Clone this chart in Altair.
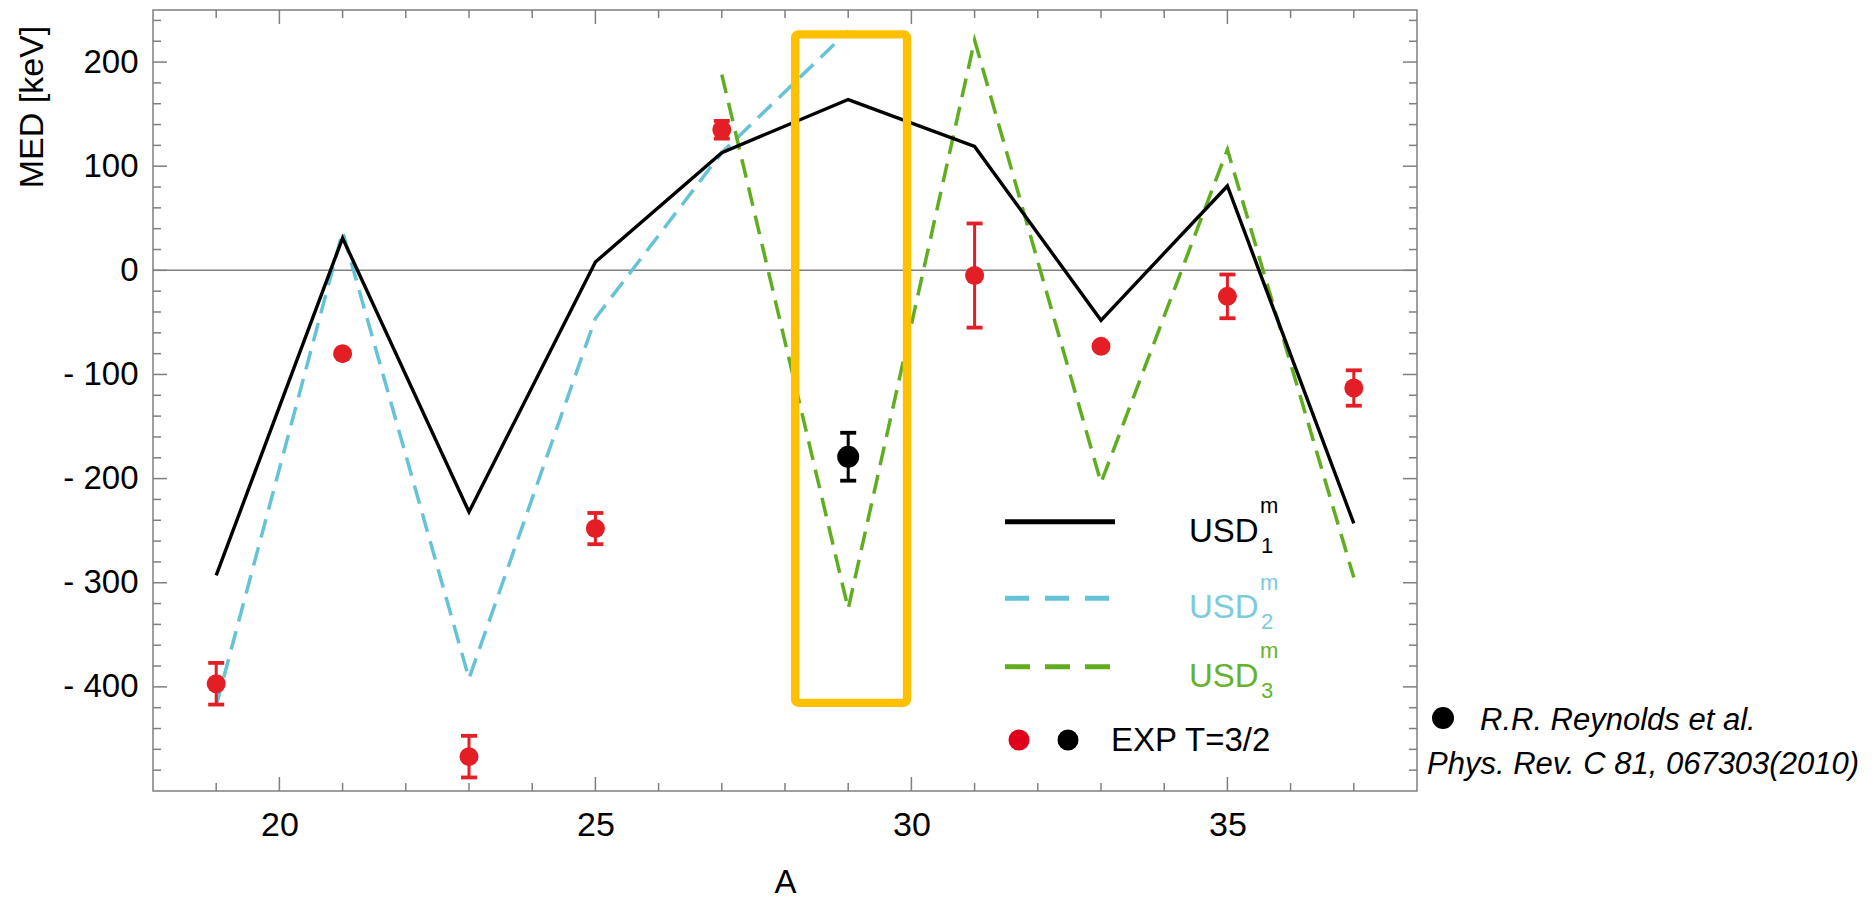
import altair as alt
import pandas as pd

# ---------------- data ----------------
A_MODEL = [19, 21, 23, 25, 27, 29, 31, 33, 35, 37]
USD1 = [-293, 31, -232, 8, 113, 164, 119, -48, 81, -243]

A_USD2 = [19, 21, 23, 25, 27, 29]
USD2 = [-418, 37, -392, -46, 113, 230]

A_USD3 = [27, 29, 31, 33, 35, 37]
USD3 = [188, -325, 221, -204, 116, -295]

A_EXP = [19, 21, 23, 25, 27, 31, 33, 35, 37]
EXP = [-397, -80, -467, -248, 135, -5, -73, -25, -113]
EXP_ERR = [20, 0, 20, 15, 8.5, 50, 0, 21, 17]

A_REF = [29]
REF = [-179]
REF_ERR = [23]

BOX_A = [28.16, 29.93]
BOX_MED = [226.5, -415.3]

X_MAJOR = [20, 25, 30, 35]
X_MINOR = [19, 21, 22, 23, 24, 26, 27, 28, 29, 31, 32, 33, 34, 36, 37]
Y_MAJOR = [-400, -300, -200, -100, 0, 100, 200]
Y_MINOR = [-480, -460, -440, -420, -380, -360, -340, -320, -280, -260, -240,
           -220, -180, -160, -140, -120, -80, -60, -40, -20, 20, 40, 60, 80,
           120, 140, 160, 180, 220, 240]

LEG_MAIN = ["USD", "USD", "USD"]
LEG_SUB = ["1", "2", "3"]
LEG_SUP = "m"
EXP_LABEL = "EXP T=3/2"
NOTE_1 = "R.R. Reynolds et al."
NOTE_2 = "Phys. Rev. C 81, 067303(2010)"

# ---------------- styles ----------------
FONT = "Liberation Sans"
BLACK = "#000000"
CYAN = "#66C3D7"
CYAN_TXT = "#7CCBDD"
GREEN = "#60AE20"
GREEN_TXT = "#66B22C"
RED = "#E31E24"
RED_LEG = "#E0001B"
GOLD = "#FFC000"
FRAME = "#7F7F7F"
W, H = 1264, 781

xs = alt.Scale(domain=[18, 38], nice=False, zero=False)
ys = alt.Scale(domain=[-500, 250], nice=False, zero=False)

AXIS_X = alt.Axis(values=X_MAJOR, format="d", ticks=False, tickSize=0, domain=False,
                  grid=False, labelFont=FONT, labelFontSize=34, labelColor=BLACK,
                  labelPadding=17, labelOverlap=False, labelFlush=False,
                  title="A", titleFont=FONT, titleFontSize=33, titleFontWeight="normal",
                  titleColor=BLACK, titleX=632, titleY=101, titleAlign="center",
                  titleBaseline="alphabetic")
AXIS_Y = alt.Axis(values=Y_MAJOR, ticks=False, tickSize=0, domain=False, grid=False,
                  labelExpr="datum.value < 0 ? '- ' + format(abs(datum.value), 'd') : format(datum.value, 'd')",
                  labelFont=FONT, labelFontSize=33, labelColor=BLACK, labelPadding=15,
                  labelOverlap=False,
                  title="MED [keV]", titleFont=FONT, titleFontSize=34, titleFontWeight="normal",
                  titleColor=BLACK, titleAngle=270, titleX=-111, titleY=96.5,
                  titleAlign="center", titleBaseline="alphabetic")


def X(f):
    return alt.X(f"{f}:Q", scale=xs, axis=AXIS_X)


def Y(f):
    return alt.Y(f"{f}:Q", scale=ys, axis=AXIS_Y)


one = pd.DataFrame({"k": [0]})
layers = []

# zero line
layers.append(alt.Chart(pd.DataFrame({"MED": [0]})).mark_rule(color=FRAME, strokeWidth=1.5)
              .encode(y=Y("MED"), x=alt.value(0), x2=alt.value(W)))

# frame ticks (inward)
xmaj = pd.DataFrame({"A": X_MAJOR})
xmin = pd.DataFrame({"A": X_MINOR})
ymaj = pd.DataFrame({"MED": Y_MAJOR})
ymin = pd.DataFrame({"MED": Y_MINOR})
for df, ln in [(xmaj, 14), (xmin, 8)]:
    layers.append(alt.Chart(df).mark_rule(color=FRAME, strokeWidth=1.5)
                  .encode(x=X("A"), y=alt.value(H), y2=alt.value(H - ln)))
    layers.append(alt.Chart(df).mark_rule(color=FRAME, strokeWidth=1.5)
                  .encode(x=X("A"), y=alt.value(0), y2=alt.value(ln)))
for df, ln in [(ymaj, 14), (ymin, 8)]:
    layers.append(alt.Chart(df).mark_rule(color=FRAME, strokeWidth=1.5)
                  .encode(y=Y("MED"), x=alt.value(0), x2=alt.value(ln)))
    layers.append(alt.Chart(df).mark_rule(color=FRAME, strokeWidth=1.5)
                  .encode(y=Y("MED"), x=alt.value(W), x2=alt.value(W - ln)))

# model lines
df1 = pd.DataFrame({"A": A_MODEL, "MED": USD1})
df2 = pd.DataFrame({"A": A_USD2, "MED": USD2})
df3 = pd.DataFrame({"A": A_USD3, "MED": USD3})
layers.append(alt.Chart(df2).mark_line(color=CYAN, strokeWidth=3.5, strokeDash=[19, 10],
                                       strokeJoin="miter", strokeMiterLimit=12)
              .encode(x=X("A"), y=Y("MED")))
layers.append(alt.Chart(df3).mark_line(color=GREEN, strokeWidth=3.5, strokeDash=[19, 10],
                                       strokeJoin="miter", strokeMiterLimit=12)
              .encode(x=X("A"), y=Y("MED")))
layers.append(alt.Chart(df1).mark_line(color=BLACK, strokeWidth=3.4,
                                       strokeJoin="miter", strokeMiterLimit=12)
              .encode(x=X("A"), y=Y("MED")))

# experimental points with error bars
exp_df = pd.DataFrame({"A": A_EXP, "MED": EXP, "err": EXP_ERR})
exp_df["lo"] = exp_df["MED"] - exp_df["err"]
exp_df["hi"] = exp_df["MED"] + exp_df["err"]
ref_df = pd.DataFrame({"A": A_REF, "MED": REF, "err": REF_ERR})
ref_df["lo"] = ref_df["MED"] - ref_df["err"]
ref_df["hi"] = ref_df["MED"] + ref_df["err"]

for df, col, sz in [(exp_df, RED, 361), (ref_df, BLACK, 484)]:
    base = alt.Chart(df).transform_filter("datum.err > 0")
    layers.append(base.mark_rule(color=col, strokeWidth=3)
                  .encode(x=X("A"), y=Y("lo"), y2="hi:Q"))
    for end in ["lo", "hi"]:
        layers.append(base.mark_rule(color=col, strokeWidth=3.8, xOffset=-8, x2Offset=8)
                      .encode(x=X("A"), x2="A:Q", y=Y(end)))
    layers.append(alt.Chart(df).mark_circle(color=col, size=sz, opacity=1)
                  .encode(x=X("A"), y=Y("MED")))

# highlight box
box_df = pd.DataFrame({"A": [BOX_A[0]], "A2": [BOX_A[1]],
                       "MED": [BOX_MED[0]], "MED2": [BOX_MED[1]]})
layers.append(alt.Chart(box_df).mark_rect(stroke=GOLD, strokeWidth=8.3, fillOpacity=0,
                                          cornerRadius=3)
              .encode(x=X("A"), x2="A2:Q", y=Y("MED"), y2="MED2:Q"))

# legend (drawn inside the plot, lower right)
leg_rows = [(511.7, BLACK, BLACK, []), (588.3, CYAN, CYAN_TXT, [24, 16]),
            (656.7, GREEN, GREEN_TXT, [25, 15])]
for i, (ly, lc, tc, dash) in enumerate(leg_rows):
    props = dict(color=lc, strokeWidth=5)
    if dash:
        props["strokeDash"] = dash
    layers.append(alt.Chart(one).mark_rule(**props)
                  .encode(x=alt.value(852), x2=alt.value(962), y=alt.value(ly)))
    layers.append(alt.Chart(one).mark_text(text=LEG_MAIN[i], font=FONT, fontSize=33,
                                           align="left", baseline="alphabetic", color=tc)
                  .encode(x=alt.value(1036), y=alt.value(ly + 20)))
    layers.append(alt.Chart(one).mark_text(text=LEG_SUB[i], font=FONT, fontSize=22,
                                           align="left", baseline="alphabetic", color=tc)
                  .encode(x=alt.value(1108), y=alt.value(ly + 31)))
    layers.append(alt.Chart(one).mark_text(text=LEG_SUP, font=FONT, fontSize=22,
                                           align="left", baseline="alphabetic", color=tc)
                  .encode(x=alt.value(1107), y=alt.value(ly - 8.5)))

layers.append(alt.Chart(one).mark_circle(color=RED_LEG, size=441, opacity=1)
              .encode(x=alt.value(866), y=alt.value(730)))
layers.append(alt.Chart(one).mark_circle(color=BLACK, size=441, opacity=1)
              .encode(x=alt.value(915), y=alt.value(730)))
layers.append(alt.Chart(one).mark_text(text=EXP_LABEL, font=FONT, fontSize=33,
                                       align="left", baseline="alphabetic", color=BLACK)
              .encode(x=alt.value(958), y=alt.value(741)))

# reference note outside the frame
layers.append(alt.Chart(one).mark_circle(color=BLACK, size=484, opacity=1)
              .encode(x=alt.value(1290), y=alt.value(708)))
layers.append(alt.Chart(one).mark_text(text=NOTE_1, font=FONT, fontSize=31, fontStyle="italic",
                                       align="left", baseline="alphabetic", color=BLACK)
              .encode(x=alt.value(1327), y=alt.value(720)))
layers.append(alt.Chart(one).mark_text(text=NOTE_2, font=FONT, fontSize=31, fontStyle="italic",
                                       align="left", baseline="alphabetic", color=BLACK)
              .encode(x=alt.value(1274), y=alt.value(764)))

chart = (alt.layer(*layers)
         .properties(width=W, height=H,
                     padding={"left": 153, "top": 10, "right": 458, "bottom": 112},
                     autosize=alt.AutoSizeParams(type="none"),
                     background="white")
         .configure_view(stroke=FRAME, strokeWidth=1.5)
         .configure_axis(labelFont=FONT, titleFont=FONT))

chart.save("out.html", embed_options={"renderer": "svg", "actions": False})
